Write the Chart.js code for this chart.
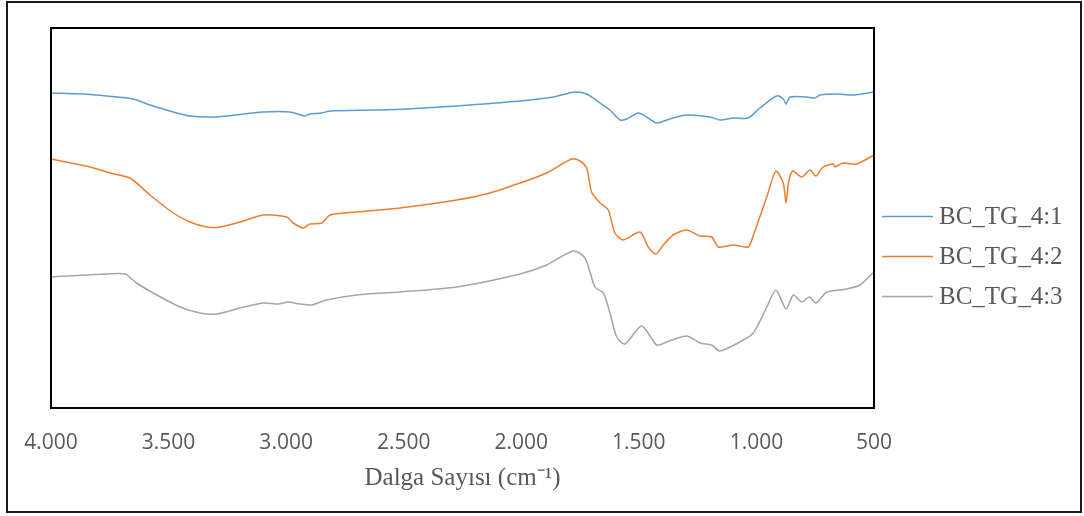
<!DOCTYPE html>
<html>
<head>
<meta charset="utf-8">
<script src="https://cdn.jsdelivr.net/npm/chart.js@4.4.1/dist/chart.umd.min.js"></script>
<style>
  html, body { margin: 0; padding: 0; background: #fff; }
  canvas { display: block; }
</style>
</head>
<body>
<canvas id="ftir" width="1084" height="516"></canvas>
<script>
// FTIR spectra, wavenumber (cm-1) vs offset transmittance (a.u.)
const wn41 = [4000, 3863, 3763, 3650, 3579, 3480, 3409, 3310, 3253, 3097, 2984, 2920, 2899, 2849, 2813,
  2629, 2487, 2275, 2005, 1864, 1772, 1722, 1665, 1623, 1580, 1552, 1502, 1467, 1424, 1368, 1297,
  1197, 1155, 1098, 1035, 985, 914, 886, 874, 857, 786, 751, 730, 659, 588, 500];
const t41 = [315, 314, 312, 309, 303, 296, 292, 291, 292, 296, 296, 292, 294, 295, 297,
  298, 299, 302, 307, 311, 316, 314, 305, 298, 288, 289, 295, 291, 285, 289, 293,
  291, 288, 290, 290, 300, 312, 309, 304, 311, 311, 310, 313, 314, 313, 316];

const wn42 = [4000, 3834, 3749, 3664, 3579, 3480, 3409, 3338, 3281, 3196, 3097, 2998, 2970, 2927, 2899,
  2849, 2813, 2700, 2516, 2275, 2133, 2005, 1892, 1786, 1750, 1722, 1701, 1665, 1630, 1602, 1566,
  1495, 1460, 1427, 1396, 1354, 1297, 1240, 1190, 1162, 1098, 1035, 1013, 956, 917, 886, 874, 864,
  846, 808, 772, 747, 716, 673, 666, 631, 574, 500];
const t42 = [249, 241, 235, 230, 213, 195, 186, 181, 181, 186, 193, 191, 185, 180, 184,
  185, 193, 196, 200, 208, 215, 225, 235, 249, 247, 240, 216, 205, 198, 175, 168,
  176, 161, 154, 163, 173, 178, 172, 171, 161, 163, 161, 173, 211, 237, 225, 205, 225,
  237, 231, 238, 232, 241, 244, 241, 245, 244, 253];

const wn43 = [4000, 3763, 3685, 3636, 3550, 3451, 3366, 3295, 3196, 3097, 3033, 2991, 2941, 2891, 2828,
  2700, 2516, 2275, 2005, 1892, 1779, 1729, 1687, 1651, 1623, 1594, 1559, 1488, 1424, 1382, 1297,
  1240, 1190, 1158, 1112, 1056, 1013, 956, 917, 874, 843, 808, 775, 747, 701, 616, 560, 500];
const t43 = [131, 134, 134, 125, 113, 101, 95, 94, 100, 105, 104, 106, 104, 103, 108,
  113, 116, 121, 134, 143, 157, 150, 121, 115, 95, 71, 64, 82, 63, 66, 72,
  65, 63, 57, 61, 68, 75, 101, 118, 99, 113, 106, 111, 105, 116, 119, 123, 136];

const seriesNames = ["BC_TG_4:1", "BC_TG_4:2", "BC_TG_4:3"];
const seriesColors = ["#5B9BD5", "#ED7D31", "#A5A5A5"];
const xTicks = [4000, 3500, 3000, 2500, 2000, 1500, 1000, 500];

function points(xs, ys) {
  return xs.map((x, i) => ({ x: x, y: ys[i] }));
}

function fmtThousands(v) {
  return String(v).replace(/\B(?=(\d{3})+(?!\d))/g, ".");
}

// white background, plot box, outer frame and the series key on the right
const frames = {
  id: "frames",
  beforeDraw(chart) {
    const ctx = chart.ctx;
    ctx.save();
    ctx.fillStyle = "#fff";
    ctx.fillRect(0, 0, chart.width, chart.height);
    ctx.restore();
  },
  afterDraw(chart) {
    const ctx = chart.ctx;
    const a = chart.chartArea;
    ctx.save();
    ctx.strokeStyle = "#000";
    ctx.lineWidth = 2;
    ctx.strokeRect(a.left, a.top, a.right - a.left, a.bottom - a.top);
    ctx.strokeStyle = "#1a1a1a";
    ctx.strokeRect(7, 2, 1074, 510);

    // key
    const sets = chart.data.datasets;
    const x0 = a.right + 8;
    const yMid = chart.height / 2 - 1.5;
    ctx.font = "25px 'Liberation Serif'";
    ctx.textBaseline = "middle";
    ctx.fillStyle = "#595959";
    sets.forEach((ds, i) => {
      const y = yMid + (i - (sets.length - 1) / 2) * 40;
      ctx.beginPath();
      ctx.strokeStyle = ds.borderColor;
      ctx.lineWidth = 1.5;
      ctx.moveTo(x0, y);
      ctx.lineTo(x0 + 51, y);
      ctx.stroke();
      ctx.fillText(ds.label, x0 + 57, y + 1);
    });
    ctx.restore();
  }
};

const datasets = [points(wn41, t41), points(wn42, t42), points(wn43, t43)].map((d, i) => ({
  label: seriesNames[i],
  data: d,
  borderColor: seriesColors[i],
  backgroundColor: seriesColors[i],
  borderWidth: 1.5,
  pointRadius: 0,
  tension: 0.25,
  clip: 2
}));

new Chart(document.getElementById("ftir"), {
  type: "line",
  data: { datasets },
  plugins: [frames],
  options: {
    responsive: false,
    animation: false,
    devicePixelRatio: 1,
    layout: { padding: { left: 51, top: 28, right: 210, bottom: 0 } },
    plugins: {
      tooltip: { enabled: false },
      legend: { display: false }
    },
    scales: {
      x: {
        type: "linear",
        reverse: true,
        min: 500,
        max: 4000,
        afterBuildTicks(s) { s.ticks = xTicks.map(v => ({ value: v })); },
        afterFit(s) { s.height = 108; },
        grid: { display: false, drawTicks: false },
        border: { display: false },
        ticks: {
          padding: 22,
          color: "#595959",
          font: { family: "Open Sans", size: 21 },
          callback: v => fmtThousands(v)
        },
        title: {
          display: true,
          text: "Dalga Sayısı (cm⁻¹)",
          color: "#595959",
          font: { family: "Liberation Serif", size: 25 },
          padding: { top: 6, bottom: 23 }
        }
      },
      y: {
        display: false,
        min: 0,
        max: 380
      }
    }
  }
});
</script>
</body>
</html>
